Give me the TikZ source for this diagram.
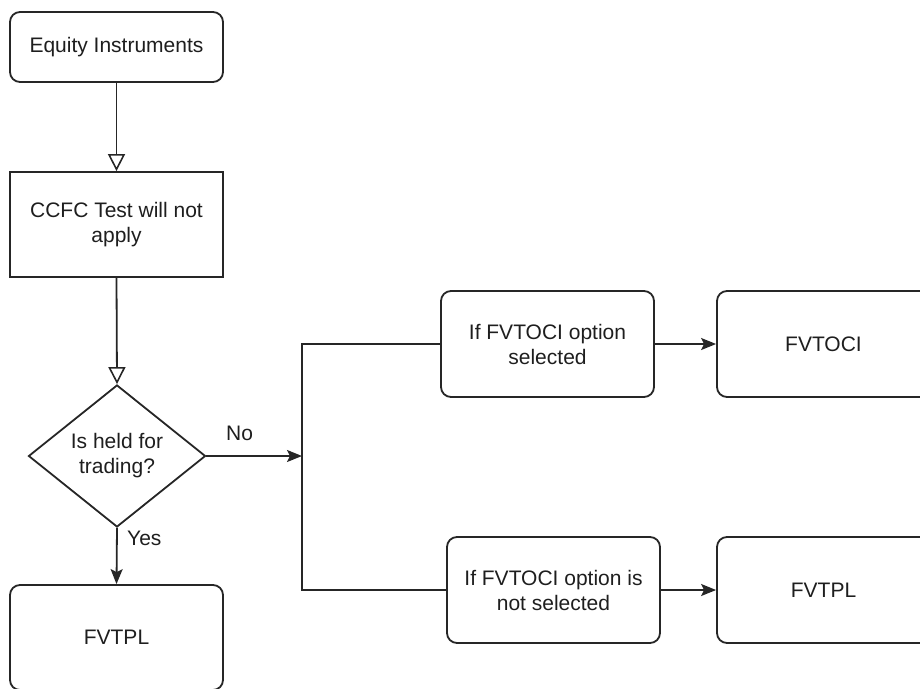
\documentclass[tikz,border=0pt]{standalone}
\usepackage{fontspec}
\setmainfont{Liberation Sans}
\usetikzlibrary{shapes.geometric,arrows.meta}

\definecolor{edge}{HTML}{262626}
\definecolor{ink}{HTML}{1E1E1E}

\tikzset{
  box/.style={draw=edge, line width=1.8pt, rounded corners=10pt,
    minimum width=213pt, minimum height=105pt, inner sep=0pt,
    align=center, text=ink, font=\fontsize{21}{25}\selectfont},
  plainbox/.style={box, rounded corners=0pt},
  decision/.style={draw=edge, line width=1.8pt, diamond, aspect=1.25,
    minimum width=177pt, minimum height=142pt, inner sep=0pt,
    align=center, text=ink, font=\fontsize{21}{25}\selectfont},
  link/.style={draw=edge, line width=1.8pt},
  openarrow/.style={link, -{Triangle[open, length=17pt, width=17pt, line width=1.6pt]}},
  fillarrow/.style={link, -{Stealth[length=15pt, width=12pt, inset=3pt]}},
  lbl/.style={text=ink, font=\fontsize{21}{25}\selectfont, inner sep=0pt}
}

\begin{document}
\begin{tikzpicture}[x=1pt, y=-1pt]
  \useasboundingbox (0,0) rectangle (920,688);

  % left column
  \node[box, minimum height=70pt] (eq) at (116.5,47) {Equity Instruments};
  \node[plainbox] (ccfc) at (116.5,224.5) {CCFC Test will not\\apply};
  \node[decision] (dia) at (117,456) {Is held for\\trading?};
  \node[box] (fvtplA) at (116.5,637.5) {FVTPL};

  % right branches
  \node[box, minimum height=106pt] (sel) at (547.5,344) {If FVTOCI option\\selected};
  \node[box, minimum height=106pt] (fvtoci) at (823.5,344) {FVTOCI};
  \node[box, minimum height=106pt] (notsel) at (553.5,590) {If FVTOCI option is\\not selected};
  \node[box, minimum height=106pt] (fvtplB) at (823.5,590) {FVTPL};

  \coordinate (j) at (302,456);

  % connectors
  \draw[openarrow] (eq.south) -- (ccfc.north);
  \draw[openarrow] (ccfc.south) -- (dia.north);
  \draw[fillarrow] (dia.south) -- (fvtplA.north);
  \draw[fillarrow] (dia.east) -- (j);
  \draw[link] (sel.west) -| (j) |- (notsel.west);
  \draw[fillarrow] (sel.east) -- (fvtoci.west);
  \draw[fillarrow] (notsel.east) -- (fvtplB.west);

  % branch labels
  \node[lbl, anchor=west] (yes) at (127,538) {Yes};
  \node[lbl, anchor=west] (no) at (226,433) {No};
\end{tikzpicture}
\end{document}
